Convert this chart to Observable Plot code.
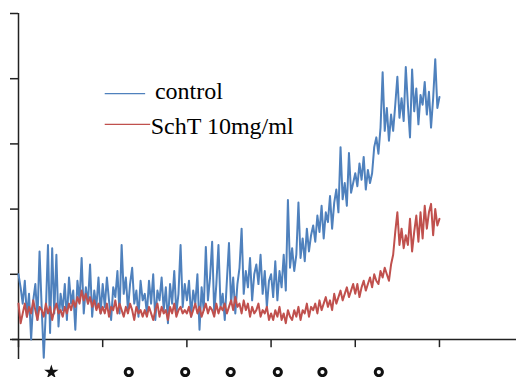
<!DOCTYPE html>
<html>
<head>
<meta charset="utf-8">
<script src="https://cdn.jsdelivr.net/npm/d3@7"></script>
<script src="https://cdn.jsdelivr.net/npm/@observablehq/plot@0.6"></script>
<style>
  html, body { margin: 0; padding: 0; background: #fff; }
  #chart svg { display: block; }
</style>
</head>
<body>
<div id="chart"></div>
<script>
// Time axis: samples every 0.025 units from 0 to 5
const xStep = 0.025;

const controlValues = [
  1.00, 0.80, 0.55, 0.90, 0.35, 0.70, 0.00, 0.60, 0.85, 0.30, 1.35, 0.50, -0.28, 0.45, 1.45, 0.10, 1.40, 0.40, 1.30, 0.20,
  0.70, 0.45, 0.85, 0.30, 0.95, 0.55, 0.75, 0.15, 0.90, 0.60, 1.25, 0.40, 0.80, 0.55, 1.15, 0.35, 0.75, 0.50, 0.95, 0.40,
  0.85, 0.50, 0.95, 0.60, 0.30, 0.80, 0.65, 1.05, 0.40, 1.45, 0.70, 0.95, 0.45, 0.85, 1.10, 0.55, 0.75, 0.35, 0.90, 0.60,
  0.70, 0.40, 0.90, 0.55, 1.00, 0.30, 0.75, 0.60, 0.95, 0.45, 0.80, 0.25, 0.85, 0.55, 1.05, 0.40, 0.70, 1.45, 0.50, 0.85,
  0.60, 0.90, 0.35, 0.75, 0.55, 1.00, 0.15, 0.80, 0.45, 1.42, 0.60, 0.95, 1.50, 0.40, 0.85, 1.45, 0.50, 0.70, 0.30, 0.90,
  1.48, 0.55, 0.95, 0.40, 0.85, 1.10, 1.70, 0.70, 1.05, 0.80, 1.25, 0.60, 1.00, 1.15, 0.85, 1.30, 0.70, 1.05, 0.50, 0.90,
  1.00, 0.65, 1.20, 0.60, 1.05, 0.80, 1.30, 0.75, 2.14, 1.10, 1.40, 1.05, 1.30, 2.10, 1.25, 1.55, 1.20, 1.70, 1.35, 1.60,
  1.75, 1.50, 1.90, 1.65, 2.05, 1.55, 1.95, 1.80, 2.20, 1.70, 2.10, 2.30, 1.95, 2.95, 2.15, 2.40, 2.05, 2.86, 2.25, 2.40,
  2.55, 2.35, 2.70, 2.45, 2.80, 2.30, 2.60, 2.40, 2.55, 2.95, 3.10, 2.85, 3.25, 4.10, 3.20, 3.55, 3.05, 3.45, 3.20, 3.60,
  4.03, 3.40, 3.70, 3.35, 4.18, 3.60, 3.10, 4.14, 3.50, 3.85, 3.30, 3.75, 3.60, 3.95, 3.45, 3.80, 3.25, 3.70, 4.30, 3.55, 3.72
];

const schtValues = [
  0.55, 0.25, 0.40, 0.55, 0.35, 0.50, 0.40, 0.60, 0.45, 0.30, 0.50, 0.45, 0.35, 0.55, 0.40, 0.50, 0.30, 0.45, 0.55, 0.40,
  0.45, 0.35, 0.50, 0.40, 0.55, 0.45, 0.60, 0.50, 0.65, 0.55, 0.75, 0.60, 0.70, 0.55, 0.65, 0.50, 0.60, 0.45, 0.55, 0.40,
  0.50, 0.40, 0.55, 0.35, 0.50, 0.45, 0.60, 0.40, 0.55, 0.45, 0.35, 0.50, 0.40, 0.55, 0.45, 0.30, 0.50, 0.40, 0.45, 0.35,
  0.45, 0.35, 0.50, 0.40, 0.30, 0.45, 0.55, 0.35, 0.50, 0.40, 0.45, 0.30, 0.50, 0.40, 0.55, 0.35, 0.45, 0.50, 0.40, 0.45,
  0.40, 0.50, 0.35, 0.45, 0.55, 0.40, 0.50, 0.35, 0.45, 0.55, 0.40, 0.50, 0.45, 0.35, 0.55, 0.40, 0.50, 0.45, 0.55, 0.40,
  0.50, 0.60, 0.45, 0.65, 0.50, 0.55, 0.40, 0.60, 0.45, 0.55, 0.35, 0.50, 0.40, 0.45, 0.55, 0.35, 0.45, 0.40, 0.50, 0.30,
  0.40, 0.30, 0.45, 0.35, 0.50, 0.30, 0.40, 0.25, 0.45, 0.35, 0.30, 0.45, 0.35, 0.50, 0.30, 0.45, 0.40, 0.55, 0.35, 0.50,
  0.45, 0.55, 0.40, 0.60, 0.45, 0.55, 0.65, 0.50, 0.60, 0.45, 0.70, 0.55, 0.65, 0.75, 0.60, 0.70, 0.80, 0.65, 0.75, 0.85,
  0.70, 0.85, 0.65, 0.80, 0.90, 0.75, 0.85, 0.95, 0.80, 1.00, 0.90, 0.85, 1.05, 0.95, 1.10, 1.00, 0.90, 1.15, 1.30, 1.65,
  1.95, 1.45, 1.70, 1.40, 1.60, 1.45, 1.85, 1.35, 1.65, 1.90, 1.50, 1.95, 1.55, 2.05, 1.70, 1.95, 2.08, 1.60, 2.00, 1.75, 1.85
];

const seriesNames = ["control", "SchT 10mg/ml"];
const seriesColors = ["#4f81bd", "#c0504d"];

const xTicks = [0, 1, 2, 3, 4, 5];
const yTicks = [0, 1, 2, 3, 4, 5];

// Markers under the x axis
const markerX = [0.39, 1.31, 1.98, 2.52, 3.08, 3.61, 4.28];
const markerKind = ["star", "circle", "circle", "circle", "circle", "circle", "circle"];

const controlData = controlValues.map((v, i) => ({x: i * xStep, y: v}));
const schtData = schtValues.map((v, i) => ({x: i * xStep, y: v}));
const markers = markerX.map((x, i) => ({x, kind: markerKind[i]}));

// Legend entries (positioned in data space inside plot)
const legend = [
  {name: seriesNames[0], color: seriesColors[0], x1: 1.03, x2: 1.51, y: 3.77, tx: 1.62, ty: 3.80},
  {name: seriesNames[1], color: seriesColors[1], x1: 1.03, x2: 1.57, y: 3.30, tx: 1.57, ty: 3.27}
];

const chart = Plot.plot({
  width: 516,
  height: 377,
  marginLeft: 18,
  marginRight: 0,
  marginTop: 13,
  marginBottom: 18,
  x: {domain: [0, 5.915], axis: null},
  y: {domain: [-0.307, 5], axis: null},
  style: {background: "#fff", overflow: "visible"},
  marks: [
    // axis lines
    Plot.ruleX([0], {y1: -0.307, y2: 5, stroke: "#222", strokeWidth: 1.5}),
    Plot.ruleY([0], {x1: -0.071, x2: 5.915, stroke: "#222", strokeWidth: 1.5}),
    // ticks
    Plot.ruleY(yTicks, {x1: -0.095, x2: 0, stroke: "#222", strokeWidth: 1.5}),
    Plot.ruleX(xTicks, {y1: -0.125, y2: 0, stroke: "#222", strokeWidth: 1.5}),
    // series
    Plot.line(controlData, {x: "x", y: "y", stroke: seriesColors[0], strokeWidth: 2}),
    Plot.line(schtData, {x: "x", y: "y", stroke: seriesColors[1], strokeWidth: 2}),
    // legend
    Plot.ruleY(legend, {y: "y", x1: "x1", x2: "x2", stroke: "color", strokeWidth: 1.3}),
    Plot.text(legend, {x: "tx", y: "ty", text: "name", textAnchor: "start", fill: "#000",
      fontFamily: "Liberation Serif, Times New Roman, serif", fontSize: 24}),
    // markers under axis
    Plot.dot(markers.filter(d => d.kind === "star"), {x: "x", y: -0.5, symbol: "star", r: 4.5, fill: "#111", stroke: "none"}),
    Plot.dot(markers.filter(d => d.kind === "circle"), {x: "x", y: -0.5, r: 3.6, fill: "none", stroke: "#111", strokeWidth: 3})
  ]
});

document.getElementById("chart").append(chart);
</script>
</body>
</html>
